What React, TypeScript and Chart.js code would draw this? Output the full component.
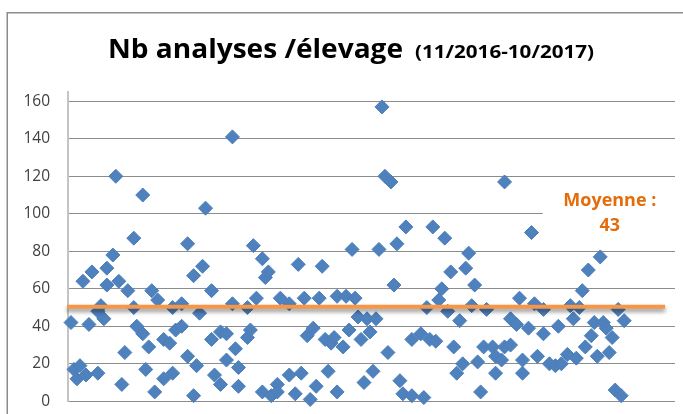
import React, { useEffect, useRef } from "react";
import { Chart, registerables } from "chart.js";

Chart.register(...registerables);

const TITLE_MAIN = "Nb analyses /élevage";
const TITLE_PERIOD = "(11/2016-10/2017)";

// élevage index (x) and number of analyses (y)
const ELEVAGES = [
  1, 2, 3, 4, 5, 6, 7, 8, 10, 10,
  11, 12, 13, 13, 15, 16, 17, 18, 19, 20,
  22, 22, 23, 25, 25, 26, 27, 28, 29, 30,
  32, 32, 34, 35, 35, 36, 38, 38, 40, 40,
  42, 42, 43, 44, 45, 46, 48, 48, 49, 51,
  51, 53, 53, 55, 55, 56, 57, 57, 60, 60,
  61, 62, 63, 65, 65, 66, 67, 68, 70, 70,
  71, 74, 74, 76, 77, 78, 79, 80, 81, 82,
  83, 84, 85, 86, 87, 88, 89, 90, 90, 92,
  93, 94, 95, 96, 97, 98, 99, 100, 101, 102,
  103, 104, 105, 106, 107, 108, 109, 110, 111, 112,
  113, 115, 115, 118, 119, 120, 121, 122, 123, 124,
  125, 126, 127, 128, 129, 130, 131, 132, 133, 134,
  135, 136, 137, 138, 139, 140, 142, 143, 143, 145,
  146, 146, 148, 148, 150, 151, 152, 152, 154, 155,
  156, 157, 159, 159, 161, 163, 164, 165, 167, 168,
  169, 170, 171, 172, 173, 174, 175, 176, 177, 178,
  179, 180, 181, 182, 183, 184, 185, 186,
];

const NB_ANALYSES = [
  42, 17, 12, 19, 64, 14, 41, 69, 48, 15,
  51, 44, 71, 62, 78, 120, 64, 9, 26, 59,
  50, 87, 40, 36, 110, 17, 29, 59, 5, 54,
  33, 12, 31, 15, 50, 38, 40, 52, 24, 84,
  3, 67, 19, 47, 72, 103, 33, 59, 14, 9,
  37, 36, 22, 52, 141, 28, 18, 8, 50, 34,
  38, 83, 55, 76, 5, 66, 69, 3, 9, 5,
  55, 14, 52, 4, 73, 15, 55, 35, 1, 39,
  8, 55, 72, 33, 16, 31, 34, 5, 56, 29,
  56, 38, 81, 55, 45, 33, 10, 44, 37, 16,
  44, 81, 157, 120, 26, 117, 62, 84, 11, 4,
  93, 3, 33, 36, 2, 50, 33, 93, 32, 54,
  60, 87, 48, 69, 29, 15, 43, 20, 71, 79,
  51, 62, 21, 5, 29, 49, 29, 15, 24, 22,
  29, 117, 44, 30, 41, 55, 15, 22, 39, 90,
  52, 24, 36, 49, 20, 19, 40, 20, 25, 51,
  44, 23, 50, 59, 29, 70, 35, 42, 24, 77,
  42, 39, 26, 34, 6, 49, 3, 43,
];

const Y_MIN = 0;
const Y_AXIS_TOP = 165;
const Y_STEP = 20;
const Y_LAST_TICK = 160;
const X_MIN = 0;
const X_MAX = 203;

const MEAN_LINE_VALUE = 50.4;
const MEAN_LINE_END = 199.7;
const MEAN_LABEL_LINES = ["Moyenne :", "43"];
const MEAN_LABEL_X = 181.2;
const MEAN_LABEL_Y = 104.2;

function fitText(
  ctx: CanvasRenderingContext2D,
  text: string,
  x: number,
  y: number,
  font: string,
  targetWidth: number
) {
  ctx.save();
  ctx.font = font;
  const w = ctx.measureText(text).width;
  ctx.translate(x, y);
  ctx.scale(targetWidth / w, 1);
  ctx.textAlign = "left";
  ctx.textBaseline = "alphabetic";
  ctx.fillText(text, 0, 0);
  ctx.restore();
}

const decorPlugin = {
  id: "decor",
  beforeDraw(chart: any) {
    const ctx: CanvasRenderingContext2D = chart.ctx;
    ctx.save();
    ctx.strokeStyle = "#8c8c8c";
    ctx.lineWidth = 1.5;
    ctx.strokeRect(7.25, 12.75, chart.width + 50, chart.height + 50);
    ctx.fillStyle = "#000000";
    fitText(ctx, TITLE_MAIN, 108, 58.3, 'bold 27px "Open Sans", sans-serif', 295);
    fitText(ctx, TITLE_PERIOD, 415, 58.3, 'bold 18.6px "Open Sans", sans-serif', 179);
    ctx.restore();
  },
  beforeDatasetsDraw(chart: any) {
    const ctx: CanvasRenderingContext2D = chart.ctx;
    const xs = chart.scales.x;
    const ys = chart.scales.y;
    const cx = xs.getPixelForValue(MEAN_LABEL_X);
    const by = ys.getPixelForValue(MEAN_LABEL_Y);
    ctx.save();
    ctx.fillStyle = "#ffffff";
    ctx.fillRect(cx - 67, by - 20, chart.width, 53);
    ctx.restore();
  },
  afterDatasetsDraw(chart: any) {
    const ctx: CanvasRenderingContext2D = chart.ctx;
    const area = chart.chartArea;
    const xs = chart.scales.x;
    const ys = chart.scales.y;
    // mean line with shadow
    const ly = ys.getPixelForValue(MEAN_LINE_VALUE);
    ctx.save();
    ctx.shadowColor = "rgba(0,0,0,0.45)";
    ctx.shadowBlur = 4;
    ctx.shadowOffsetY = 3;
    ctx.strokeStyle = "#F79646";
    ctx.lineWidth = 4;
    ctx.beginPath();
    ctx.moveTo(area.left - 1, ly);
    ctx.lineTo(xs.getPixelForValue(MEAN_LINE_END), ly);
    ctx.stroke();
    ctx.restore();
    // label
    const cx = xs.getPixelForValue(MEAN_LABEL_X);
    const by = ys.getPixelForValue(MEAN_LABEL_Y);
    ctx.save();
    ctx.font = 'bold 18.6px "Open Sans", sans-serif';
    const w = ctx.measureText(MEAN_LABEL_LINES[0]).width;
    const s = 93 / w;
    ctx.fillStyle = "#E46C0A";
    ctx.textAlign = "center";
    ctx.textBaseline = "alphabetic";
    MEAN_LABEL_LINES.forEach((line, i) => {
      ctx.save();
      ctx.translate(cx, by + i * 24.7);
      ctx.scale(s, 1);
      ctx.fillText(line, 0, 0);
      ctx.restore();
    });
    ctx.restore();
  },
};

export default function App() {
  const ref = useRef<HTMLCanvasElement>(null);
  useEffect(() => {
    const points = ELEVAGES.map((x, i) => ({ x, y: NB_ANALYSES[i] }));
    const chart = new Chart(ref.current as HTMLCanvasElement, {
      type: "scatter",
      data: {
        datasets: [
          {
            label: "Nb analyses",
            data: points,
            pointStyle: "rectRot",
            pointRadius: 7,
            pointBorderWidth: 1,
            backgroundColor: "#4F81BD",
            borderColor: "#4A7EBB",
            clip: false as any,
          },
        ],
      },
      options: {
        responsive: false,
        animation: false,
        events: [],
        layout: { padding: { left: 0, right: 7, top: 91.9, bottom: 28.7 } },
        plugins: {
          legend: { display: false },
          title: { display: false },
          tooltip: { enabled: false },
        },
        scales: {
          x: { type: "linear", min: X_MIN, max: X_MAX, display: false },
          y: {
            type: "linear",
            min: Y_MIN,
            max: Y_AXIS_TOP,
            afterBuildTicks(scale: any) {
              const t = [];
              for (let v = Y_MIN; v <= Y_LAST_TICK; v += Y_STEP) t.push({ value: v });
              scale.ticks = t;
            },
            afterFit(scale: any) {
              scale.width = 68;
            },
            ticks: {
              stepSize: Y_STEP,
              padding: 18,
              color: "#404040",
              font: { family: '"Open Sans", sans-serif', size: 15.5 },
            },
            grid: { color: "#8c8c8c", lineWidth: 1, drawTicks: false },
            border: { display: true, color: "#c4c4c4", width: 2 },
          },
        },
      },
      plugins: [decorPlugin],
    });
    return () => chart.destroy();
  }, []);
  return (
    <div style={{ position: "fixed", left: 0, top: 0, width: 683, height: 430, background: "#fff" }}>
      <canvas ref={ref} width={683} height={430} style={{ display: "block" }} />
    </div>
  );
}
